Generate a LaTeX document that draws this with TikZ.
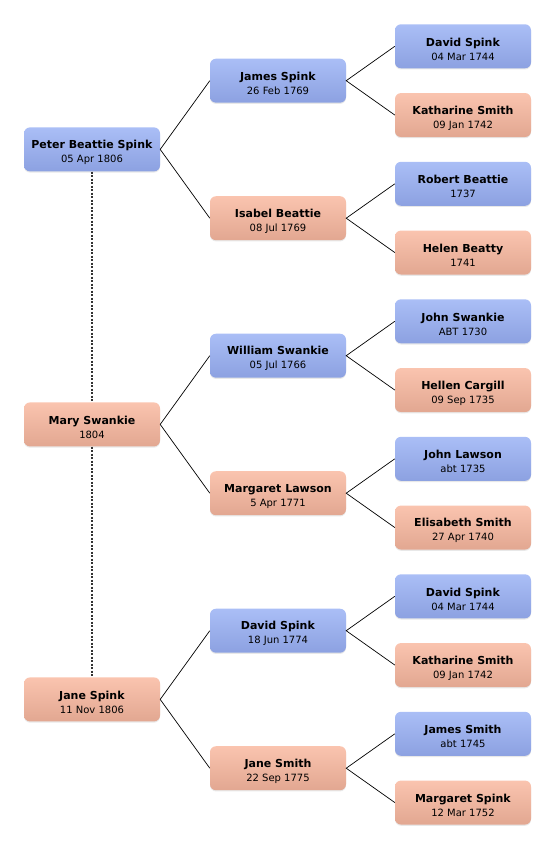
\documentclass[tikz,border=0pt]{standalone}
\usepackage{fontspec}
\setmainfont{DejaVu Sans}
\usetikzlibrary{shadows,positioning}
\definecolor{mtop}{HTML}{AABEF6}
\definecolor{mbot}{HTML}{8CA1E1}
\definecolor{ftop}{HTML}{FAC4AF}
\definecolor{fbot}{HTML}{E2A791}
\newcommand{\pers}[2]{\rule{0pt}{14pt}\textbf{#1}\\{\fontsize{10}{14}\selectfont #2}}
\tikzset{box/.style={rounded corners=6pt,minimum width=136pt,minimum height=44pt,align=center,inner sep=2pt,
    font=\fontsize{11}{14}\selectfont,
    drop shadow={shadow xshift=0pt,shadow yshift=-1.2pt,opacity=0.18}},
  male/.style={box,top color=mtop,bottom color=mbot},
  female/.style={box,top color=ftop,bottom color=fbot},
  link/.style={black,line width=0.7pt},
  sibling/.style={black!80,line width=1.2pt,dash pattern=on 2pt off 1.5pt}}

\begin{document}
\begin{tikzpicture}[x=1pt,y=-1pt]
\useasboundingbox (0,0) rectangle (556,850);
% children
\node[male] (c1) at (92,149.4) {\pers{Peter Beattie Spink}{05 Apr 1806}};
\node[female] (c2) at (92,424.4) {\pers{Mary Swankie}{1804}};
\node[female] (c3) at (92,699.4) {\pers{Jane Spink}{11 Nov 1806}};
% parents
\node[male] (p1) at (278,80.7) {\pers{James Spink}{26 Feb 1769}};
\node[female] (p2) at (278,218.2) {\pers{Isabel Beattie}{08 Jul 1769}};
\node[male] (p3) at (278,355.7) {\pers{William Swankie}{05 Jul 1766}};
\node[female] (p4) at (278,493.2) {\pers{Margaret Lawson}{5 Apr 1771}};
\node[male] (p5) at (278,630.7) {\pers{David Spink}{18 Jun 1774}};
\node[female] (p6) at (278,768.2) {\pers{Jane Smith}{22 Sep 1775}};
% grandparents
\node[male] (g1) at (463,46.3) {\pers{David Spink}{04 Mar 1744}};
\node[female] (g2) at (463,115.05) {\pers{Katharine Smith}{09 Jan 1742}};
\node[male] (g3) at (463,183.8) {\pers{Robert Beattie}{1737}};
\node[female] (g4) at (463,252.55) {\pers{Helen Beatty}{1741}};
\node[male] (g5) at (463,321.3) {\pers{John Swankie}{ABT 1730}};
\node[female] (g6) at (463,390.05) {\pers{Hellen Cargill}{09 Sep 1735}};
\node[male] (g7) at (463,458.8) {\pers{John Lawson}{abt 1735}};
\node[female] (g8) at (463,527.55) {\pers{Elisabeth Smith}{27 Apr 1740}};
\node[male] (g9) at (463,596.3) {\pers{David Spink}{04 Mar 1744}};
\node[female] (g10) at (463,665.05) {\pers{Katharine Smith}{09 Jan 1742}};
\node[male] (g11) at (463,733.8) {\pers{James Smith}{abt 1745}};
\node[female] (g12) at (463,802.55) {\pers{Margaret Spink}{12 Mar 1752}};
% links
\foreach \a/\b/\c in {c1/p1/p2,c2/p3/p4,c3/p5/p6,p1/g1/g2,p2/g3/g4,p3/g5/g6,p4/g7/g8,p5/g9/g10,p6/g11/g12}
  \draw[link] (\b.west) -- (\a.east) -- (\c.west);
\draw[sibling] (c1.south) -- (c2.north) (c2.south) -- (c3.north);
\end{tikzpicture}
\end{document}
